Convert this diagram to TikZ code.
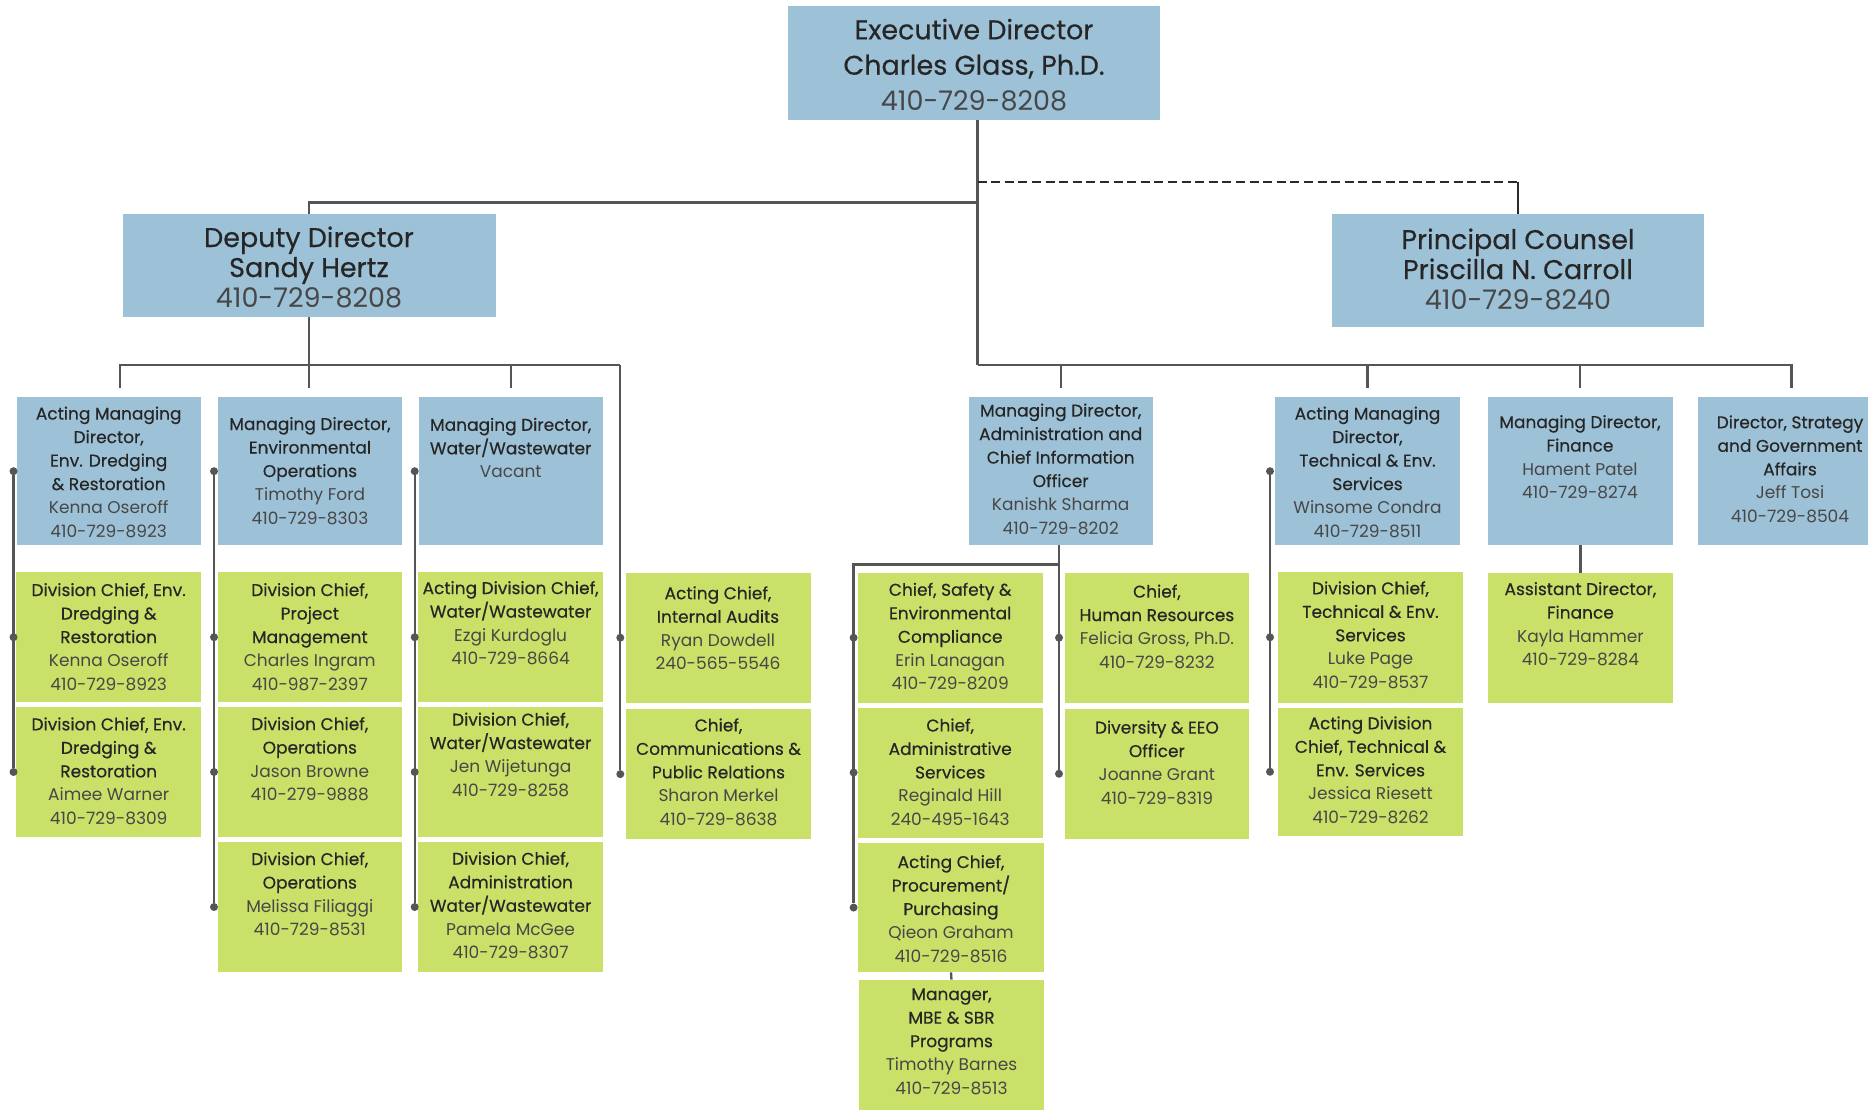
\documentclass[tikz,border=0pt]{standalone}
\usepackage{fontspec}
\setmainfont{Poppins}
\newfontfamily\medfont[FakeBold=0.4]{Poppins}
\definecolor{cblue}{HTML}{9DC1D7}
\definecolor{cgreen}{HTML}{C9E168}
\definecolor{cline}{HTML}{555555}
\definecolor{cdash}{HTML}{2A2A2A}
\definecolor{ctitle}{HTML}{262626}
\definecolor{cname}{HTML}{474747}
\newcommand\sfz{\fontsize{17}{23.5}\selectfont}
\newcommand\bfzA{\fontsize{27}{35.4}\selectfont}
\newcommand\bfzB{\fontsize{27}{30}\selectfont}
\newcommand\nm[1]{{\normalfont\color{cname}#1}}
\tikzset{
  bb/.style={fill=cblue, draw=none, inner sep=0pt, outer sep=0pt, anchor=north west},
  gb/.style={fill=cgreen, draw=none, inner sep=0pt, outer sep=0pt, anchor=north west},
  st/.style={align=center, inner sep=0pt, text=ctitle, font=\sfz\medfont},
  btA/.style={align=center, inner sep=0pt, text=ctitle, font=\bfzA\medfont},
  btB/.style={align=center, inner sep=0pt, text=ctitle, font=\bfzB\medfont},
  ln/.style={draw=cline, line width=2.3pt},
  dln/.style={draw=cdash, line width=2pt, dash pattern=on 9pt off 4.6pt},
  dt/.style={circle, fill=cline, draw=none, inner sep=0pt, minimum size=8pt},
}
\begin{document}
\begin{tikzpicture}[x=1pt,y=-1pt]
\useasboundingbox (0,0) rectangle (1868,1109);
% ---------- top level ----------
\node[bb, minimum width=372pt, minimum height=114.4pt] (exec) at (788,6) {};
\node[btA] (exect) at (974,64.7) {Executive Director\\Charles Glass, Ph.D.\\\nm{410-729-8208}};
\node[bb, minimum width=372.8pt, minimum height=103pt] (dep) at (122.7,214) {};
\node[btB] (dept) at (309,267) {Deputy Director\\Sandy Hertz\\\nm{410-729-8208}};
\node[bb, minimum width=371.5pt, minimum height=113pt] (pc) at (1332,214) {};
\node[btB] (pct) at (1518,269) {Principal Counsel\\Priscilla N. Carroll\\\nm{410-729-8240}};
% ---------- managing directors ----------
\node[bb, minimum width=184pt, minimum height=148.4pt] (a1) at (16.7,397) {};
\node[st] (a1t) at (108.7,472) {Acting Managing\\Director,\\Env. Dredging\\\& Restoration\\\nm{Kenna Oseroff}\\\nm{410-729-8923}};
\node[bb, minimum width=184pt, minimum height=148.4pt] (a2) at (218,397) {};
\node[st] (a2t) at (310,470.7) {Managing Director,\\Environmental\\Operations\\\nm{Timothy Ford}\\\nm{410-729-8303}};
\node[bb, minimum width=184pt, minimum height=148.4pt] (a3) at (418.7,397) {};
\node[st] (a3t) at (510.7,447.9) {Managing Director,\\Water/Wastewater\\\nm{Vacant}};
\node[bb, minimum width=184.5pt, minimum height=148.4pt] (b1) at (968.5,397) {};
\node[st] (b1t) at (1060.7,469) {Managing Director,\\Administration and\\Chief Information\\Officer\\\nm{Kanishk Sharma}\\\nm{410-729-8202}};
\node[bb, minimum width=185pt, minimum height=148.4pt] (b2) at (1275,397) {};
\node[st] (b2t) at (1367.5,472) {Acting Managing\\Director,\\Technical \& Env.\\Services\\\nm{Winsome Condra}\\\nm{410-729-8511}};
\node[bb, minimum width=184.5pt, minimum height=148.4pt] (b3) at (1488,397) {};
\node[st] (b3t) at (1580,457) {Managing Director,\\Finance\\\nm{Hament Patel}\\\nm{410-729-8274}};
\node[bb, minimum width=185pt, minimum height=148.4pt] (b4) at (1697.5,397) {};
\node[st] (b4t) at (1790,469) {Director, Strategy\\and Government\\Affairs\\\nm{Jeff Tosi}\\\nm{410-729-8504}};
% ---------- division chiefs ----------
\node[gb, minimum width=184.8pt, minimum height=130.4pt] (c11) at (16.3,572) {};
\node[st] (c11t) at (108.7,636.7) {Division Chief, Env.\\Dredging \&\\Restoration\\\nm{Kenna Oseroff}\\\nm{410-729-8923}};
\node[gb, minimum width=184.8pt, minimum height=130pt] (c12) at (16.3,707) {};
\node[st] (c12t) at (108.7,771) {Division Chief, Env.\\Dredging \&\\Restoration\\\nm{Aimee Warner}\\\nm{410-729-8309}};
\node[gb, minimum width=184.4pt, minimum height=130.4pt] (c21) at (217.6,572) {};
\node[st] (c21t) at (309.8,636.7) {Division Chief,\\Project\\Management\\\nm{Charles Ingram}\\\nm{410-987-2397}};
\node[gb, minimum width=184.4pt, minimum height=130pt] (c22) at (217.6,707) {};
\node[st] (c22t) at (309.8,759) {Division Chief,\\Operations\\\nm{Jason Browne}\\\nm{410-279-9888}};
\node[gb, minimum width=184.4pt, minimum height=130pt] (c23) at (217.6,842) {};
\node[st] (c23t) at (309.8,894) {Division Chief,\\Operations\\\nm{Melissa Filiaggi}\\\nm{410-729-8531}};
\node[gb, minimum width=184.5pt, minimum height=130.4pt] (c31) at (418.4,572) {};
\node[st] (c31t) at (510.6,623) {Acting Division Chief,\\Water/Wastewater\\\nm{Ezgi Kurdoglu}\\\nm{410-729-8664}};
\node[gb, minimum width=184.5pt, minimum height=130pt] (c32) at (418.4,707) {};
\node[st] (c32t) at (510.6,754.5) {Division Chief,\\Water/Wastewater\\\nm{Jen Wijetunga}\\\nm{410-729-8258}};
\node[gb, minimum width=184.5pt, minimum height=130pt] (c33) at (418.4,842) {};
\node[st] (c33t) at (510.6,905.4) {Division Chief,\\Administration\\Water/Wastewater\\\nm{Pamela McGee}\\\nm{410-729-8307}};
\node[gb, minimum width=185pt, minimum height=130.2pt] (d1) at (625.6,572.6) {};
\node[st] (d1t) at (718,628) {Acting Chief,\\Internal Audits\\\nm{Ryan Dowdell}\\\nm{240-565-5546}};
\node[gb, minimum width=185.8pt, minimum height=130.2pt] (d2) at (625.6,709) {};
\node[st] (d2t) at (718.5,772) {Chief,\\Communications \&\\Public Relations\\\nm{Sharon Merkel}\\\nm{410-729-8638}};
\node[gb, minimum width=184.6pt, minimum height=130.2pt] (e1) at (857.9,572.6) {};
\node[st] (e1t) at (950.2,636.4) {Chief, Safety \&\\Environmental\\Compliance\\\nm{Erin Lanagan}\\\nm{410-729-8209}};
\node[gb, minimum width=184.6pt, minimum height=130pt] (e2) at (857.9,707.5) {};
\node[st] (e2t) at (950.2,772) {Chief,\\Administrative\\Services\\\nm{Reginald Hill}\\\nm{240-495-1643}};
\node[gb, minimum width=185.4pt, minimum height=129.5pt] (e3) at (858.3,842.8) {};
\node[st] (e3t) at (951,908.7) {Acting Chief,\\Procurement/\\Purchasing\\\nm{Qieon Graham}\\\nm{410-729-8516}};
\node[gb, minimum width=184.5pt, minimum height=140pt] (e4) at (859.2,979.6) {};
\node[st] (e4t) at (951.5,1041.4) {Manager,\\MBE \& SBR\\Programs\\\nm{Timothy Barnes}\\\nm{410-729-8513}};
\node[gb, minimum width=183.7pt, minimum height=130.2pt] (f1) at (1065,572.6) {};
\node[st] (f1t) at (1156.9,626.5) {Chief,\\Human Resources\\\nm{Felicia Gross, Ph.D.}\\\nm{410-729-8232}};
\node[gb, minimum width=183.7pt, minimum height=129.5pt] (f2) at (1065,709) {};
\node[st] (f2t) at (1156.9,762.5) {Diversity \& EEO\\Officer\\\nm{Joanne Grant}\\\nm{410-729-8319}};
\node[gb, minimum width=185pt, minimum height=130.5pt] (g1) at (1278,572) {};
\node[st] (g1t) at (1370.5,635) {Division Chief,\\Technical \& Env.\\Services\\\nm{Luke Page}\\\nm{410-729-8537}};
\node[gb, minimum width=185pt, minimum height=128.5pt] (g2) at (1278,707.5) {};
\node[st] (g2t) at (1370.5,770) {Acting Division\\Chief, Technical \&\\Env. Services\\\nm{Jessica Riesett}\\\nm{410-729-8262}};
\node[gb, minimum width=184.8pt, minimum height=129.5pt] (h1) at (1488,573) {};
\node[st] (h1t) at (1580.4,624) {Assistant Director,\\Finance\\\nm{Kayla Hammer}\\\nm{410-729-8284}};
% ---------- junctions ----------
\coordinate (ej) at (977.5,365);
\coordinate (dj) at (977.5,202.5);
\coordinate (pj) at (977.5,181.6);
\coordinate (dropy) at (0,387.5);
\coordinate (lbL) at (120.3,365);
\coordinate (lbR) at (620.3,365);
\coordinate (rbR) at (1791.6,365);
\coordinate (ej2) at (1059,564.6);
\coordinate (x1) at (13.5,0);
\coordinate (x2) at (214,0);
\coordinate (x3) at (414.7,0);
\coordinate (x4) at (620.3,0);
\coordinate (x5) at (853.6,0);
\coordinate (x6) at (1059,0);
\coordinate (x7) at (1270,0);
% ---------- dots ----------
\node[dt] (p1a) at (a1.west -| x1) {};
\node[dt] (p1b) at (c11.west -| x1) {};
\node[dt] (p1c) at (c12.west -| x1) {};
\node[dt] (p2a) at (a2.west -| x2) {};
\node[dt] (p2b) at (c21.west -| x2) {};
\node[dt] (p2c) at (c22.west -| x2) {};
\node[dt] (p2d) at (c23.west -| x2) {};
\node[dt] (p3a) at (a3.west -| x3) {};
\node[dt] (p3b) at (c31.west -| x3) {};
\node[dt] (p3c) at (c32.west -| x3) {};
\node[dt] (p3d) at (c33.west -| x3) {};
\node[dt] (p4b) at (d1.west -| x4) {};
\node[dt] (p4c) at (d2.west -| x4) {};
\node[dt] (p5b) at (e1.west -| x5) {};
\node[dt] (p5c) at (e2.west -| x5) {};
\node[dt] (p5d) at (e3.west -| x5) {};
\node[dt] (p6b) at (f1.west -| x6) {};
\node[dt] (p6c) at (f2.west -| x6) {};
\node[dt] (p7a) at (b2.west -| x7) {};
\node[dt] (p7b) at (g1.west -| x7) {};
\node[dt] (p7c) at (g2.west -| x7) {};
% ---------- connectors ----------
\draw[ln] (exec.south -| ej) -- (ej);
\draw[ln] (dj) -| (dep.north);
\draw[dln] (pj) -- (pj -| pc.north);
\draw[draw=cdash, line width=2pt] (pj -| pc.north) -- (pc.north);
\draw[ln] (ej) -- (rbR) -- (rbR |- dropy);
\draw[ln] (b1.north |- ej) -- (b1.north |- dropy);
\draw[ln] (b2.north |- ej) -- (b2.north |- dropy);
\draw[ln] (b3.north |- ej) -- (b3.north |- dropy);
\draw[ln] (lbL |- dropy) -- (lbL) -- (lbR);
\draw[ln] (dep.south) -- (dep.south |- dropy);
\draw[ln] (a3.north |- ej) -- (a3.north |- dropy);
\draw[ln] (p1a) -- (p1c);
\draw[ln] (p2a) -- (p2d);
\draw[ln] (p3a) -- (p3d);
\draw[ln] (lbR) -- (p4c);
\draw[ln] (b1.south -| x6) -- (p6c);
\draw[ln] (ej2) -| (p5d);
\draw[ln] (p7a) -- (p7c);
\draw[ln] (b3.south -| h1.north) -- (h1.north);
\draw[ln] (e3.south) -- (e4.north);
\end{tikzpicture}
\end{document}
